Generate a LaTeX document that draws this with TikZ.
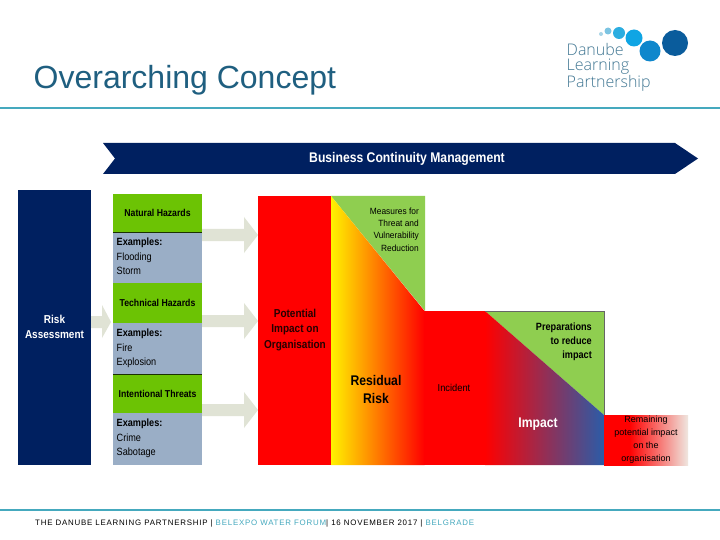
\documentclass[tikz,border=0pt]{standalone}
\usepackage{fontspec}
\setmainfont{Liberation Sans}
\newfontfamily\logofont{Open Sans Light}
\newfontfamily\condfont[FakeStretch=0.87]{Liberation Sans}
\newfontfamily\semifont[FakeStretch=0.93]{Liberation Sans}
\usepackage{xcolor}
\definecolor{dlpteal}{HTML}{45A9BE}
\definecolor{dlptitle}{HTML}{1F5F80}
\definecolor{dlpnavy}{HTML}{002060}
\definecolor{hazgreen}{HTML}{6CC304}
\definecolor{hazgrey}{HTML}{9AAEC6}
\definecolor{measgreen}{HTML}{8FCE50}
\definecolor{arrowgrey}{HTML}{E0E3D5}
\definecolor{impactblue}{HTML}{2A5CA8}
\definecolor{fadeend}{HTML}{EFE7E0}
% only the middle 50bp of a shading lands on the path
\pgfdeclarehorizontalshading{fadebox}{100bp}{color(0bp)=(red); color(40bp)=(red); color(75bp)=(fadeend); color(100bp)=(fadeend)}

\tikzset{
  labeltxt/.style={inner sep=0pt, align=center, text=black},
}
\newcommand{\txtsize}[2]{\fontsize{#1}{#2}\selectfont}

\begin{document}
\begin{tikzpicture}[x=1pt, y=-1pt]
  \useasboundingbox (0,0) rectangle (720,540);
  \fill[white] (0,0) rectangle (720,540);

  % -- header and footer
  \node[anchor=base west, inner sep=0pt, text=dlptitle, font=\txtsize{32}{34}] (title) at (33.5,89) {Overarching Concept};
  \draw[dlpteal, line width=1.8pt] (0,108) -- (720,108);
  \draw[dlpteal, line width=1.8pt] (0,510) -- (720,510);
  \node[anchor=base west, inner sep=0pt, font=\txtsize{7.9}{9}\addfontfeature{LetterSpace=10}] (footer) at (35,525)
    {THE DANUBE LEARNING PARTNERSHIP | \textcolor{dlpteal}{BELEXPO WATER FORUM}| 16 NOVEMBER 2017 | \textcolor{dlpteal}{BELGRADE}};

  % -- logo: the row of growing dots, then the three words
  \foreach \cx/\cy/\rad/\col in {601/34/2/A9D4E6, 608/31/3.5/7CC4E2, 619/33/6/2BADE0,
      634/38/8.5/0FA5E4, 650/51/10.5/0F87CC, 675/43/13/0A5C9C}{
    \definecolor{dotcol}{HTML}{\col}
    \fill[dotcol] (\cx,\cy) circle (\rad);}
  \node[anchor=north west, inner sep=0pt, text=dlptitle!85, font=\logofont\txtsize{16}{15}, align=left] (logo) at (566.5,43)
    {Danube\\Learning\\Partnership};

  % -- the banner across the top
  \fill[dlpnavy] (103,143) -- (675,143) -- (698,158.5) -- (675,174) -- (103,174) -- (115,158.5) -- cycle;
  \node[labeltxt, text=white, font=\condfont\bfseries\txtsize{14}{16}] (bcm) at (407,158.5) {Business Continuity Management};

  % -- risk assessment column
  \fill[dlpnavy] (18,190) rectangle (91,465);
  \node[labeltxt, text=white, font=\condfont\bfseries\txtsize{11.5}{15.5}] (risk) at (54.5,327) {Risk\\Assessment};

  % -- three hazard blocks: green head, grey list of examples
  \foreach \ya/\yb/\yc/\hname/\exa/\exb in {
      194/232/283/Natural Hazards/Flooding/Storm,
      283/323/374/Technical Hazards/Fire/Explosion,
      374/413/465/Intentional Threats/Crime/Sabotage}{
    \fill[hazgreen] (113,\ya) rectangle (202,\yb);
    \fill[hazgrey] (113,\yb) rectangle (202,\yc);
    \node[labeltxt, font=\condfont\bfseries\txtsize{10}{12}] (head\ya) at (157.5,{(\ya+\yb)/2}) {\hname};
    \node[labeltxt, anchor=north west, align=left, font=\condfont\txtsize{10.5}{14.3}] (ex\ya) at (116.5,\yb+6)
      {\textbf{Examples:}\\\exa\\\exb};
  }
  \draw[black!75!hazgreen, line width=0.5pt] (113,232) -- (202,232);
  \draw[black!75!hazgreen, line width=0.5pt] (113,374) -- (202,374);

  % -- block arrows
  \fill[arrowgrey] (91,316) -- (102,316) -- (102,305) -- (111,322) -- (102,338) -- (102,328) -- (91,328) -- cycle;
  \foreach \ym in {235,321,410}{
    \fill[arrowgrey] (202,\ym-6) -- (244,\ym-6) -- (244,\ym-18) -- (258,\ym) -- (244,\ym+18) -- (244,\ym+6) -- (202,\ym+6) -- cycle;
  }

  % -- the falling impact curve
  \fill[red] (258,196) rectangle (331,465);
  \fill[measgreen] (331,196) -- (425,196) -- (425,311) -- cycle;
  \path[left color=yellow!95!red, right color=red] (331,196) -- (424.5,311) -- (424.5,465) -- (331,465) -- cycle;
  \fill[red] (424,311) rectangle (486,465);
  \fill[measgreen] (485,311) -- (604,311) -- (604,415) -- cycle;
  \path[left color=red, right color=impactblue] (485,311) -- (604,415) -- (604,465) -- (485,465) -- cycle;
  \draw[black!60, line width=0.5pt] (485,311) -- (604,311) -- (604,465);
  \shade[shading=fadebox] (604,415) rectangle (688,465);

  % -- labels on the curve
  \node[labeltxt, text=black!85!red, font=\condfont\bfseries\txtsize{11.5}{15.5}] (potential) at (295,330) {Potential\\Impact on\\Organisation};
  \node[labeltxt, font=\condfont\bfseries\txtsize{14}{18}] (residual) at (376,389) {Residual\\Risk};
  \node[labeltxt, font=\semifont\txtsize{10}{12}] (incident) at (454,388) {Incident};
  \node[labeltxt, anchor=east, align=right, font=\semifont\txtsize{9}{12.4}] (measures) at (419,229.5) {Measures for\\Threat and\\Vulnerability\\Reduction};
  \node[labeltxt, anchor=east, align=right, font=\condfont\bfseries\txtsize{10.5}{14}] (prep) at (592,342) {Preparations\\to reduce\\impact};
  \node[labeltxt, text=white, font=\condfont\bfseries\txtsize{14}{16}] (impact) at (538,424.5) {Impact};
  \node[labeltxt, font=\txtsize{9}{13}] (remain) at (646,439.5) {Remaining\\potential impact\\on the\\organisation};
\end{tikzpicture}
\end{document}
